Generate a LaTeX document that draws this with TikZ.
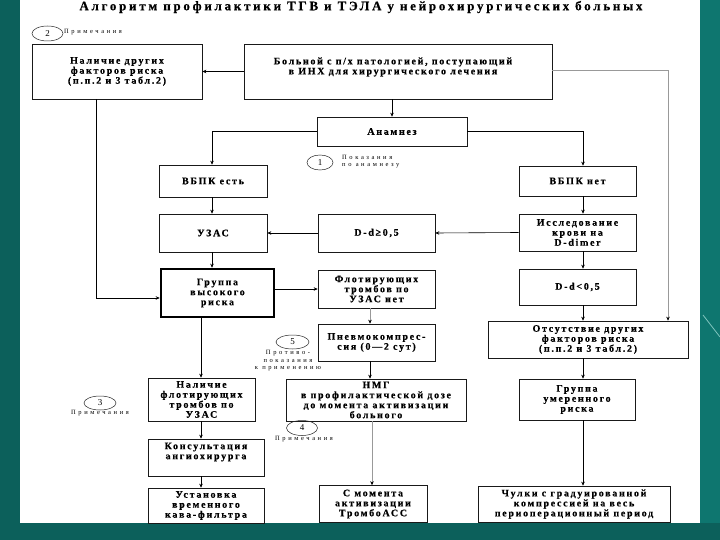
\documentclass[tikz,border=0pt]{standalone}
\usepackage{fontspec}
\setmainfont{Liberation Serif}
\newfontfamily\bxfont[LetterSpace=17,FakeBold=0.4]{Liberation Serif}
\newfontfamily\ttlfont[LetterSpace=21,FakeBold=0.4]{Liberation Serif}
\newfontfamily\ntfont[LetterSpace=40]{Liberation Serif}
\usetikzlibrary{arrows.meta,calc,shapes.geometric}
\definecolor{tealbg}{HTML}{0C605B}
\definecolor{tealrt}{HTML}{0E766F}
\definecolor{tealln}{HTML}{7FC4BE}
\begin{document}
\begin{tikzpicture}[x=1pt,y=-1pt,
  box/.style={draw=black!90,line width=0.6pt,inner sep=0pt,align=center,
    font=\bxfont\bfseries\fontsize{10}{10}\selectfont},
  txt/.style={inner sep=0pt,align=center,font=\bxfont\bfseries\fontsize{10}{10}\selectfont},
  arr/.style={draw=black,-{Stealth[length=4pt,width=3.5pt]},line width=0.6pt},
  garr/.style={draw=black!40,-{Stealth[length=4pt,width=3.5pt,color=black]},line width=0.6pt},
  note/.style={font=\ntfont\fontsize{6.5}{7.3}\selectfont,inner sep=0pt,align=center},
  circ/.style={draw=black!85,line width=0.5pt,ellipse,inner sep=0pt,font=\fontsize{9}{9}\selectfont}]
\useasboundingbox (0,0) rectangle (720,540);
% background
\fill[tealbg] (0,0) rectangle (720,540);
\fill[tealrt] (700,0) rectangle (720,523);
\draw[tealln,line width=0.8pt] (703,315) -- (720,337);
\fill[white] (20,0) rectangle (700,523);
% title
\node[font=\ttlfont\bfseries\fontsize{13}{13}\selectfont,inner sep=0pt] (title) at (361,7)
  {Алгоритм профилактики ТГВ и ТЭЛА у нейрохирургических больных};
% boxes
\node[box,minimum width=170pt,minimum height=55pt] (A) at (117,71.5) {Наличие других\\факторов риска\\(п.п.2 и 3 табл.2)};
\node[box,minimum width=308pt,minimum height=55pt] (B) at (398,71.5) {};
\node[txt] (Bt) at (393,67) {Больной с п/х патологией, поступающий\\в ИНХ для хирургического лечения};
\node[box,minimum width=150pt,minimum height=29pt] (An) at (392,131.5) {Анамнез};
\node[box,minimum width=108pt,minimum height=32pt] (VBPKy) at (213,181) {ВБПК есть};
\node[box,minimum width=108pt,minimum height=38pt] (UZAS) at (213,233) {УЗАС};
\node[box,minimum width=117pt,minimum height=38pt] (Dge) at (376.5,233) {D-d≥0,5};
\node[box,minimum width=117pt,minimum height=30pt] (VBPKn) at (577.5,181) {ВБПК нет};
\node[box,minimum width=117pt,minimum height=37pt] (Issl) at (577.5,232.5) {Исследование\\крови на\\D-dimer};
\node[box,minimum width=117pt,minimum height=36pt] (Dlt) at (577.5,287) {D-d<0,5};
\node[box,minimum width=200pt,minimum height=37pt] (Otsut) at (588,339.5) {Отсутствие других\\факторов риска\\(п.п.2 и 3 табл.2)};
\node[box,minimum width=116pt,minimum height=41pt] (GrU) at (577,399.5) {Группа\\умеренного\\риска};
\node[box,minimum width=192pt,minimum height=36pt] (Chul) at (574,504) {Чулки с градуированной\\компрессией на весь\\периоперационный период};
\node[box,minimum width=108pt,minimum height=37pt] (Smom) at (373,504) {С момента\\активизации\\ТромбоАСС};
\node[box,minimum width=180pt,minimum height=42pt] (NMG) at (376,400) {НМГ\\в профилактической дозе\\до момента активизации\\больного};
\node[box,minimum width=117pt,minimum height=38pt] (Flot) at (376.5,289) {Флотирующих\\тромбов по\\УЗАС нет};
\node[box,minimum width=117pt,minimum height=37pt] (Pnev) at (376.5,342.5) {Пневмокомпрес-\\сия (0—2 сут)};
\node[box,line width=2.5pt,draw=black,minimum width=113pt,minimum height=48pt] (GrV) at (217.5,293) {Группа\\высокого\\риска};
\node[box,minimum width=107pt,minimum height=43pt] (NalF) at (201.5,399.5) {Наличие\\флотирующих\\тромбов по\\УЗАС};
\node[box,minimum width=116pt,minimum height=37pt] (Kons) at (206,457.5) {};
\node[txt] (Konst) at (206,452) {Консультация\\ангиохирурга};
\node[box,minimum width=116pt,minimum height=35pt] (Ust) at (206,505.5) {Установка\\временного\\кава-фильтра};
% circles and notes
\node[circ,minimum width=31pt,minimum height=15pt] (c2) at (47.5,33.5) {2};
\node[note,anchor=west] (n2) at (64,32) {Примечания};
\node[circ,minimum width=26pt,minimum height=15pt] (c1) at (320,162.5) {1};
\node[note,anchor=west,align=left] (n1) at (342,161.5) {Показания\\по анамнезу};
\node[circ,minimum width=33pt,minimum height=14pt] (c5) at (292.5,342) {5};
\node[note,anchor=north] (n5) at (288,350.5) {Противо-\\показания\\к применению};
\node[circ,minimum width=32pt,minimum height=14pt] (c3) at (100,403) {3};
\node[note,anchor=north] (n3) at (100,410) {Примечания};
\node[circ,minimum width=31pt,minimum height=15pt] (c4) at (302,428) {4};
\node[note,anchor=north] (n4) at (304,436.5) {Примечания};
% helper coordinates
\coordinate (rx) at (668,0);
\coordinate (rcx) at (583,0);
\coordinate (lx) at (212,0);
\coordinate (ax) at (96,0);
\coordinate (ay) at (0,298);
\coordinate (mx) at (370,0);
\coordinate (mx2) at (372,0);
\coordinate (gx) at (201,0);
% connectors
\draw[arr] (B.west) -- (B.west -| A.east);
\draw[garr] ($(B.east)+(0,-1.5)$) -| (Otsut.north -| rx);
\draw[arr] (B.south -| An.north) -- (An.north);
\draw[arr] (An.west) -| (VBPKy.north -| lx);
\draw[arr] (An.east) -| (VBPKn.north -| rcx);
\draw[arr] (VBPKn.south -| rcx) -- (Issl.north -| rcx);
\draw[arr] (Issl.west) -- (Dge.east);
\draw[arr] (Dge.west) -- (UZAS.east);
\draw[arr] (VBPKy.south -| lx) -- (UZAS.north -| lx);
\draw[arr] (UZAS.south -| lx) -- (GrV.north -| lx);
\draw[arr] (A.south -| ax) |- (GrV.west |- ay);
\draw[arr] (Flot.west -| GrV.east) -- (Flot.west);
\draw[garr] (Flot.south -| mx) -- (Pnev.north -| mx);
\draw[arr] (Pnev.south -| mx) -- (NMG.north -| mx);
\draw[garr] (NMG.south -| mx2) -- (Smom.north -| mx2);
\draw[arr] (Issl.south -| rcx) -- (Dlt.north -| rcx);
\draw[arr] (Dlt.south -| rcx) -- (Otsut.north -| rcx);
\draw[arr] (Otsut.south -| rcx) -- (GrU.north -| rcx);
\draw[arr] (GrU.south -| rcx) -- (Chul.north -| rcx);
\draw[arr] (GrV.south -| gx) -- (NalF.north -| gx);
\draw[arr] (NalF.south -| gx) -- (Kons.north -| gx);
\draw[arr] (Kons.south -| gx) -- (Ust.north -| gx);
\end{tikzpicture}
\end{document}
